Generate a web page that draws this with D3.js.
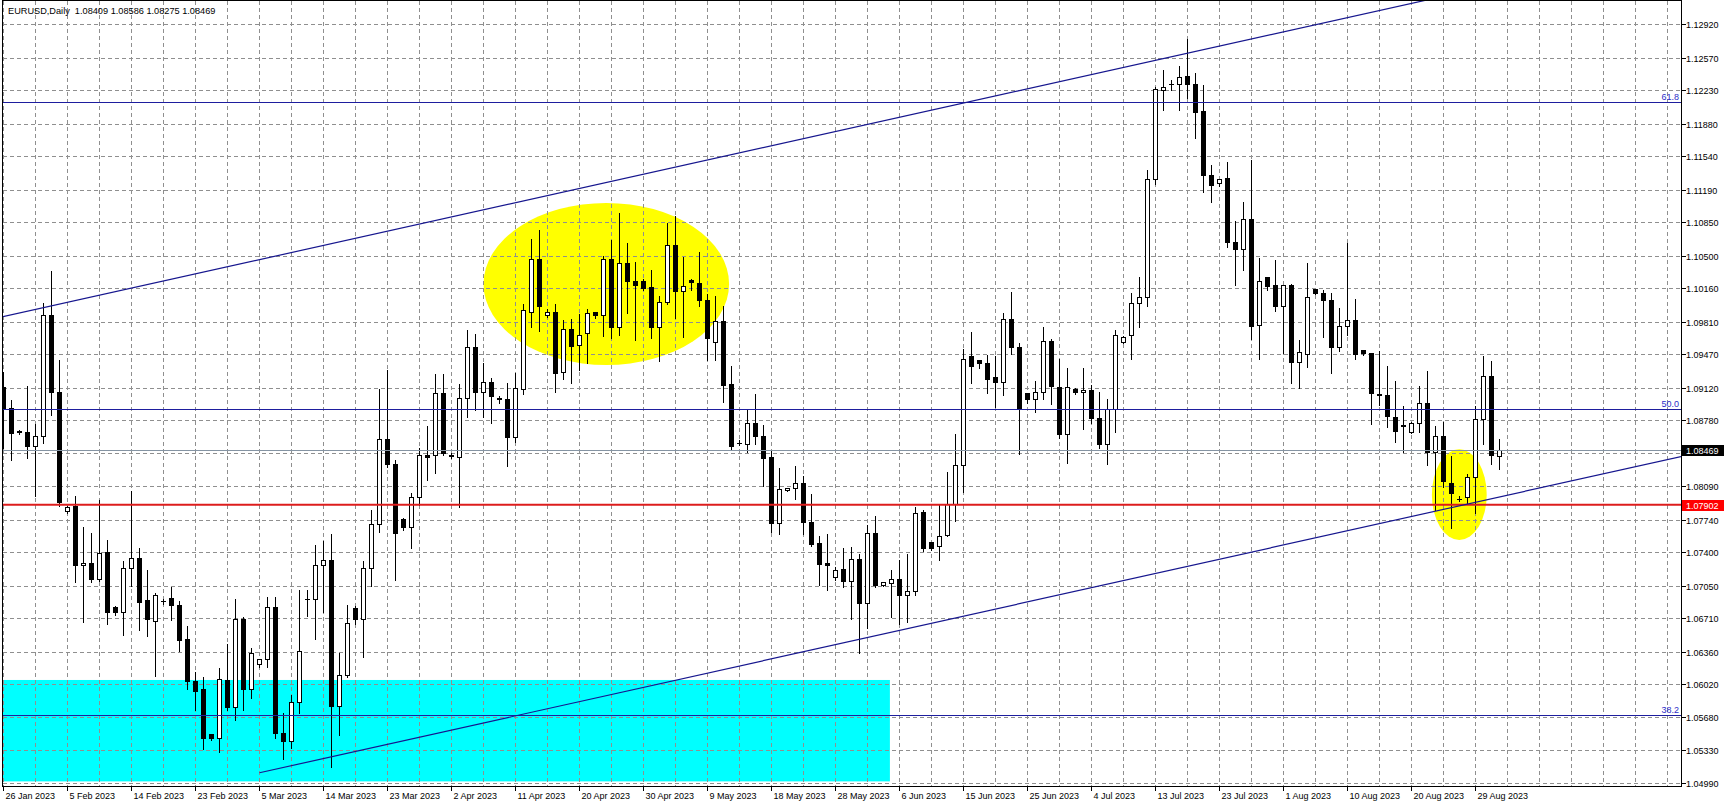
<!DOCTYPE html>
<html><head><meta charset="utf-8">
<script src="https://cdn.jsdelivr.net/npm/d3@7"></script>
<style>
html,body{margin:0;padding:0;background:#fff;overflow:hidden}
svg{display:block}
text{font-family:"Liberation Sans",Arial,sans-serif}
</style>
</head><body>
<svg id="chart" width="1727" height="807"></svg>
<script>
// ---------------- DATA ----------------
const headerText = "EURUSD,Daily  1.08409 1.08586 1.08275 1.08469";

const opens = [1.0913,1.0891,1.0867,1.0866,1.0851,1.0862,1.0988,1.0907,1.0783,1.0788,1.0727,1.0729,1.0712,1.0740,1.0683,1.0678,1.0724,1.0734,1.0690,1.0668,
1.0689,1.0692,1.0685,1.0649,1.0605,1.0597,1.0550,1.0546,1.0606,1.0578,1.0670,1.0597,1.0623,1.0628,1.0683,1.0551,1.0543,1.0583,1.0691,1.0691,
1.0727,1.0732,1.0579,1.0612,1.0682,1.0670,1.0723,1.0770,1.0858,1.0832,1.0775,1.0766,1.0798,1.0842,1.0842,1.0906,1.0841,1.0840,1.0901,1.0955,
1.0907,1.0918,1.0901,1.0900,1.0860,1.0911,1.0991,1.1047,1.0988,1.0991,1.0928,1.0973,1.0957,1.0969,1.0991,1.0988,1.1046,1.0975,1.1042,1.1023,
1.1023,1.1017,1.0975,1.1002,1.1061,1.1013,1.1025,1.1021,1.1004,1.0960,1.0982,1.0916,1.0854,1.0853,1.0875,1.0862,1.0840,1.0771,1.0805,1.0807,
1.0812,1.0772,1.0750,1.0729,1.0714,1.0722,1.0710,1.0733,1.0687,1.0760,1.0706,1.0708,1.0712,1.0695,1.0699,1.0782,1.0751,1.0746,1.0758,1.0790,
1.0831,1.0945,1.0941,1.0938,1.0923,1.0918,1.0984,1.0955,1.0906,1.0900,1.0907,1.0961,1.0913,1.0864,1.0911,1.0907,1.0910,1.0880,1.0853,1.0890,
1.0960,1.0967,1.1001,1.1007,1.1130,1.1223,1.1229,1.1229,1.1238,1.1229,1.1201,1.1134,1.1126,1.1131,1.1064,1.1057,1.1088,1.0977,1.1028,1.1019,
1.0997,1.1019,1.0939,1.0947,1.1015,1.1011,1.1004,1.0955,1.0976,1.0983,1.0951,1.0948,1.0905,1.0904,1.0881,1.0873,1.0866,1.0875,1.0896,1.0845,
1.0862,1.0812,1.0796,1.0798,1.0819,1.0879,1.0924,1.08409];

const highs = [1.0929,1.0900,1.0868,1.0914,1.0875,1.1001,1.1034,1.0941,1.0789,1.0799,1.0767,1.0761,1.0795,1.0753,1.0684,1.0731,1.0804,1.0745,1.0722,1.0698,
1.0692,1.0704,1.0690,1.0663,1.0615,1.0610,1.0551,1.0619,1.0645,1.0692,1.0673,1.0640,1.0629,1.0694,1.0694,1.0572,1.0591,1.0701,1.0701,1.0748,
1.0752,1.0760,1.0635,1.0685,1.0684,1.0731,1.0785,1.0911,1.0931,1.0837,1.0776,1.0802,1.0849,1.0872,1.0927,1.0927,1.0844,1.0916,1.0973,1.0969,
1.0938,1.0923,1.0904,1.0917,1.0928,1.1000,1.1068,1.1077,1.0995,1.1000,1.0983,1.0984,1.0990,1.0995,1.0991,1.1050,1.1067,1.1095,1.1064,1.1044,
1.1026,1.1036,1.1008,1.1085,1.1092,1.1049,1.1026,1.1054,1.1010,1.1008,1.0998,1.0935,1.0858,1.0890,1.0906,1.0874,1.0847,1.0829,1.0808,1.0831,
1.0820,1.0801,1.0757,1.0760,1.0725,1.0745,1.0746,1.0739,1.0769,1.0778,1.0709,1.0722,1.0732,1.0739,1.0788,1.0785,1.0751,1.0791,1.0824,1.0864,
1.0953,1.0971,1.0941,1.0947,1.0946,1.0991,1.1013,1.0959,1.0906,1.0919,1.0976,1.0963,1.0942,1.0933,1.0912,1.0933,1.0915,1.0908,1.0901,1.0973,
1.0966,1.1011,1.1028,1.1140,1.1227,1.1245,1.1234,1.1249,1.1277,1.1241,1.1229,1.1145,1.1131,1.1148,1.1087,1.1107,1.1150,1.1048,1.1028,1.1046,
1.1020,1.1021,1.0962,1.1043,1.1016,1.1015,1.1011,1.0996,1.1064,1.1005,1.0952,1.0949,1.0951,1.0935,1.0919,1.0893,1.0877,1.0914,1.0930,1.0872,
1.0877,1.0841,1.0799,1.0822,1.0893,1.0946,1.0940,1.08586];

const lows = [1.0849,1.0837,1.0864,1.0839,1.0799,1.0855,1.0884,1.0789,1.0781,1.0709,1.0668,1.0709,1.0710,1.0666,1.0675,1.0654,1.0705,1.0659,1.0653,1.0611,
1.0686,1.0670,1.0637,1.0598,1.0576,1.0535,1.0544,1.0532,1.0576,1.0565,1.0576,1.0588,1.0621,1.0621,1.0546,1.0524,1.0536,1.0572,1.0674,1.0650,
1.0678,1.0516,1.0550,1.0610,1.0666,1.0631,1.0705,1.0762,1.0830,1.0712,1.0764,1.0745,1.0790,1.0816,1.0823,1.0842,1.0839,1.0788,1.0882,1.0889,
1.0882,1.0876,1.0897,1.0831,1.0856,1.0906,1.0976,1.0972,1.0986,1.0908,1.0922,1.0917,1.0931,1.0938,1.0985,1.0966,1.0964,1.0968,1.0991,1.0962,
1.1015,1.0964,1.0940,1.1000,1.0985,1.0965,1.1015,1.0998,1.0941,1.0941,1.0898,1.0847,1.0853,1.0845,1.0854,1.0810,1.0762,1.0760,1.0804,1.0796,
1.0760,1.0747,1.0706,1.0701,1.0712,1.0704,1.0671,1.0635,1.0661,1.0704,1.0705,1.0673,1.0666,1.0668,1.0696,1.0742,1.0743,1.0732,1.0757,1.0773,
1.0803,1.0917,1.0933,1.0907,1.0892,1.0905,1.0948,1.0843,1.0896,1.0887,1.0901,1.0895,1.0860,1.0834,1.0906,1.0869,1.0876,1.0849,1.0833,1.0866,
1.0959,1.0943,1.0976,1.0998,1.1125,1.1203,1.1224,1.1203,1.1215,1.1173,1.1117,1.1107,1.1123,1.1060,1.1020,1.1036,1.0963,1.0942,1.1015,1.0993,
1.0949,1.0917,1.0912,1.0934,1.1010,1.0965,1.0928,1.0951,1.0968,1.0942,1.0947,1.0875,1.0894,1.0871,1.0856,1.0845,1.0865,1.0866,1.0832,1.0785,
1.0809,1.0766,1.0794,1.0792,1.0781,1.0854,1.0833,1.08275];

const closes = [1.0891,1.0865,1.0866,1.0851,1.0862,1.0988,1.0907,1.0792,1.0787,1.0727,1.0729,1.0712,1.0739,1.0678,1.0678,1.0724,1.0734,1.0688,1.0670,1.0695,
1.0689,1.0685,1.0648,1.0605,1.0595,1.0546,1.0546,1.0607,1.0578,1.0670,1.0597,1.0635,1.0628,1.0683,1.0551,1.0543,1.0583,1.0637,1.0691,1.0727,
1.0732,1.0579,1.0612,1.0666,1.0670,1.0723,1.0770,1.0858,1.0832,1.0760,1.0766,1.0798,1.0842,1.0840,1.0906,1.0844,1.0842,1.0901,1.0955,1.0907,
1.0918,1.0903,1.0900,1.0860,1.0912,1.0993,1.1047,1.0997,1.0991,1.0927,1.0973,1.0956,1.0967,1.0990,1.0988,1.1046,1.0975,1.1042,1.1023,1.1019,
1.1016,1.0975,1.1002,1.1061,1.1013,1.1018,1.1022,1.1004,1.0964,1.0982,1.0915,1.0851,1.0854,1.0875,1.0861,1.0839,1.0771,1.0806,1.0807,1.0812,
1.0772,1.0749,1.0728,1.0727,1.0721,1.0710,1.0733,1.0687,1.0760,1.0706,1.0709,1.0712,1.0695,1.0699,1.0781,1.0744,1.0744,1.0757,1.0790,1.0831,
1.0942,1.0935,1.0938,1.0921,1.0918,1.0984,1.0955,1.0890,1.0900,1.0907,1.0961,1.0914,1.0864,1.0913,1.0907,1.0910,1.0880,1.0853,1.0890,1.0967,
1.0965,1.1000,1.1007,1.1130,1.1224,1.1226,1.1229,1.1237,1.1229,1.1200,1.1134,1.1124,1.1130,1.1064,1.1057,1.1088,1.0976,1.1023,1.1018,1.0997,
1.1019,1.0939,1.0949,1.1007,1.1011,1.1004,1.0955,1.0976,1.0983,1.0947,1.0948,1.0906,1.0904,1.0882,1.0867,1.0872,1.0875,1.0896,1.0845,1.0862,
1.0814,1.0802,1.0796,1.0819,1.0879,1.0924,1.0842,1.08469];

const dateTickLabels = ["26 Jan 2023","5 Feb 2023","14 Feb 2023","23 Feb 2023","5 Mar 2023","14 Mar 2023","23 Mar 2023","2 Apr 2023",
"11 Apr 2023","20 Apr 2023","30 Apr 2023","9 May 2023","18 May 2023","28 May 2023","6 Jun 2023","15 Jun 2023","25 Jun 2023",
"4 Jul 2023","13 Jul 2023","23 Jul 2023","1 Aug 2023","10 Aug 2023","20 Aug 2023","29 Aug 2023"];
const barsPerDateLabel = 8;
const barsPerGridLine = 4;

const priceTicks = ["1.04990","1.05330","1.05680","1.06020","1.06360","1.06710","1.07050","1.07400","1.07740","1.08090","1.08440",
"1.08780","1.09120","1.09470","1.09810","1.10160","1.10500","1.10850","1.11190","1.11540","1.11880","1.12230","1.12570","1.12920"];

const fibLabels = ["61.8","50.0","38.2"];
const fibPrices = [1.12102, 1.08900, 1.05698];
const supportPrice = 1.07902;
const lastPrice = closes[closes.length - 1];

// drawing objects anchored in (bar index, price)
const channelUpper = [[0, 1.09868], [160, 1.12844]];
const channelLower = [[32, 1.05100], [160, 1.07481]];
const zoneBox = [-6, 110.8, 1.06070, 1.05010];         // k from, k to, price top, price bottom
const ellipseTop = [60.0, 90.7, 1.11056, 1.09362];      // bbox: k left, k right, price top, price bottom
const ellipseLow = [178.55, 185.4, 1.08481, 1.07533];

// ---------------- CHART ----------------
const svg = d3.select("#chart");
const PL = 2.5, PR = 1681.5, PT = 0.5, PB = 786.5;
const x = d3.scaleLinear().domain([0, 187]).range([3.5, 3.5 + 8 * 187]);
const y = d3.scaleLinear().domain([1.0499, 1.1292]).range([783.3, 24.6]);
const snap = v => Math.round(v - 0.5) + 0.5;

svg.append("rect").attr("width", 1727).attr("height", 807).attr("fill", "#fff");

svg.append("defs").append("clipPath").attr("id", "plotclip")
  .append("rect").attr("x", 3).attr("y", 1).attr("width", PR - 3).attr("height", PB - 1);

const g = svg.append("g").attr("clip-path", "url(#plotclip)");

// background objects
g.append("rect")
  .attr("x", x(zoneBox[0])).attr("width", x(zoneBox[1]) - x(zoneBox[0]))
  .attr("y", y(zoneBox[2])).attr("height", y(zoneBox[3]) - y(zoneBox[2]))
  .attr("fill", "#00ffff");

[ellipseTop, ellipseLow].forEach(e => {
  const xl = x(e[0]), xr = x(e[1]), yt = y(e[2]), yb = y(e[3]);
  g.append("ellipse")
    .attr("cx", (xl + xr) / 2).attr("cy", (yt + yb) / 2)
    .attr("rx", (xr - xl) / 2).attr("ry", (yb - yt) / 2)
    .attr("fill", "#ffff00");
});

// grid
const grid = g.append("g").attr("stroke", "#8f8f8f").attr("stroke-width", 1)
  .attr("stroke-dasharray", "4,3").attr("shape-rendering", "crispEdges");
priceTicks.forEach(t => {
  const yy = snap(y(+t));
  grid.append("line").attr("x1", 3).attr("x2", PR).attr("y1", yy).attr("y2", yy);
});
for (let k = 0; x(k) < PR - 4; k += barsPerGridLine) {
  const xx = snap(x(k));
  grid.append("line").attr("x1", xx).attr("x2", xx).attr("y1", 1).attr("y2", PB);
}

// candles
const candles = g.append("g").attr("shape-rendering", "crispEdges");
opens.forEach((o, i) => {
  const c = closes[i], h = highs[i], l = lows[i];
  const cx = snap(x(i));
  const yh = Math.round(y(h)), yl = Math.round(y(l));
  candles.append("line").attr("x1", cx).attr("x2", cx)
    .attr("y1", yh).attr("y2", yl + 1).attr("stroke", "#000").attr("stroke-width", 1);
  const top = snap(y(Math.max(o, c))), bot = snap(y(Math.min(o, c)));
  if (bot - top < 1) {
    candles.append("line").attr("x1", cx - 2.5).attr("x2", cx + 2.5)
      .attr("y1", top).attr("y2", top).attr("stroke", "#000").attr("stroke-width", 1);
  } else {
    candles.append("rect").attr("x", cx - 2).attr("width", 4)
      .attr("y", top).attr("height", bot - top)
      .attr("fill", c < o ? "#000" : "#fff").attr("stroke", "#000").attr("stroke-width", 1);
  }
});

// horizontal levels
fibPrices.forEach(p => {
  const yy = snap(y(p));
  g.append("line").attr("x1", 3).attr("x2", PR).attr("y1", yy).attr("y2", yy)
    .attr("stroke", "#1e1e9e").attr("stroke-width", 1).attr("shape-rendering", "crispEdges");
});
{
  const yy = snap(y(lastPrice));
  g.append("line").attr("x1", 3).attr("x2", PR).attr("y1", yy).attr("y2", yy)
    .attr("stroke", "#8594a3").attr("stroke-width", 1).attr("shape-rendering", "crispEdges");
}
g.append("line").attr("x1", 3).attr("x2", PR).attr("y1", y(supportPrice)).attr("y2", y(supportPrice))
  .attr("stroke", "#dd1c1c").attr("stroke-width", 2);

// channel trend lines
function lineAt(a, k) { const s = (a[1][1] - a[0][1]) / (a[1][0] - a[0][0]); return a[0][1] + s * (k - a[0][0]); }
[[channelUpper, -10], [channelLower, channelLower[0][0]]].forEach(([ln, k0]) => {
  const k1 = 240;
  g.append("line").attr("x1", x(k0)).attr("y1", y(lineAt(ln, k0)))
    .attr("x2", x(k1)).attr("y2", y(lineAt(ln, k1)))
    .attr("stroke", "#16168e").attr("stroke-width", 1.2);
});

// fib labels
fibPrices.forEach((p, i) => {
  g.append("text").attr("x", 1679).attr("y", snap(y(p)) - 2.5).attr("text-anchor", "end")
    .attr("font-size", 9).attr("fill", "#2d2dc8").text(fibLabels[i]);
});

// header
svg.append("text").attr("x", 8).attr("y", 13.5).attr("font-size", 9.2).attr("fill", "#000")
  .attr("xml:space", "preserve").style("white-space", "pre").text(headerText);

// frame
svg.append("rect").attr("x", PL).attr("y", PT).attr("width", PR - PL).attr("height", PB - PT)
  .attr("fill", "none").attr("stroke", "#000").attr("stroke-width", 1).attr("shape-rendering", "crispEdges");

// price axis
const pa = svg.append("g");
const lastY = y(lastPrice), supY = y(supportPrice);
priceTicks.forEach(t => {
  const yy = snap(y(+t));
  pa.append("line").attr("x1", PR).attr("x2", PR + 4).attr("y1", yy).attr("y2", yy)
    .attr("stroke", "#000").attr("shape-rendering", "crispEdges");
  if (Math.abs(yy - lastY) < 9 || Math.abs(yy - supY) < 9) return;
  pa.append("text").attr("x", 1686).attr("y", yy + 3.2).attr("font-size", 9).attr("fill", "#000").text(t);
});
function priceBox(p, bg) {
  const yy = y(p);
  pa.append("rect").attr("x", 1682).attr("y", Math.round(yy) - 5).attr("width", 42).attr("height", 11).attr("fill", bg);
  pa.append("text").attr("x", 1686).attr("y", Math.round(yy) + 3.5).attr("font-size", 9).attr("fill", "#fff").text(p.toFixed(5));
}
priceBox(lastPrice, "#000");
priceBox(supportPrice, "#ff0000");

// time axis
const ta = svg.append("g");
dateTickLabels.forEach((lab, j) => {
  const xx = snap(x(j * barsPerDateLabel));
  ta.append("line").attr("x1", xx).attr("x2", xx).attr("y1", PB).attr("y2", PB + 4)
    .attr("stroke", "#000").attr("shape-rendering", "crispEdges");
  ta.append("text").attr("x", xx + 2).attr("y", 799).attr("font-size", 9).attr("fill", "#000").text(lab);
});
</script>
</body></html>
